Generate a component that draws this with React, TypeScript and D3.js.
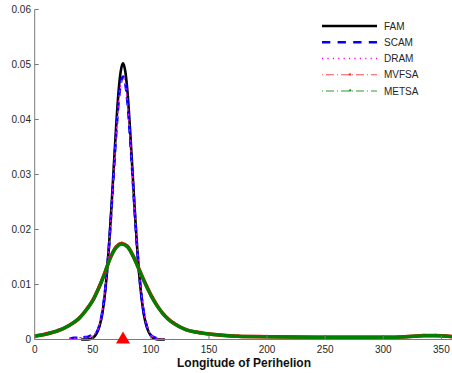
import React from "react";
import * as d3 from "d3";

// ---- data ----
const famX = [40,44,48,50,52,54,56,58,60,62,64,66,68,70,72,74,76,78,80,82,84,86,88,90,92,94,96,98,100,102,104,108,112];
const famY = [0,0,0.0001,0.0003,0.0007,0.0014,0.0026,0.0045,0.0075,0.0117,0.0172,0.0239,0.0312,0.0384,0.0446,0.0487,0.0502,0.0487,0.0446,0.0384,0.0312,0.0239,0.0172,0.0117,0.0075,0.0045,0.0026,0.0014,0.0007,0.0003,0.0001,0,0];

const scamX = [30,34,38,42,46,48,50,52,54,56,58,60,62,64,66,68,70,72,74,76,78,80,82,84,86,88,90,92,94,96,98,100,102,104,107,110];
const scamY = [0.0001,0.0003,0.0003,0.0004,0.0005,0.0007,0.0008,0.0010,0.0016,0.0028,0.0048,0.0078,0.0119,0.0172,0.0235,0.0304,0.0370,0.0427,0.0465,0.0478,0.0465,0.0427,0.0370,0.0304,0.0235,0.0172,0.0119,0.0078,0.0048,0.0028,0.0015,0.0008,0.0005,0.0003,0.0002,0.0001];

const dramX = [30,34,38,42,46,48,50,52,54,56,58,60,62,64,66,68,70,72,74,76,78,80,82,84,86,88,90,92,94,96,98,100,102,104,107,110];
const dramY = [0.0001,0.0002,0.0003,0.0004,0.0005,0.0006,0.0008,0.0011,0.0016,0.0029,0.0049,0.0079,0.0120,0.0173,0.0236,0.0304,0.0369,0.0425,0.0463,0.0476,0.0464,0.0426,0.0370,0.0305,0.0236,0.0173,0.0120,0.0079,0.0049,0.0029,0.0016,0.0009,0.0005,0.0003,0.0002,0.0001];

const metsaX = [0,10,20,30,38,45,50,55,60,65,70,75,80,85,90,95,100,105,110,115,120,130,140,150,160,175,200,250,300,320,335,345,360];
const metsaY = [0.0006,0.0010,0.0016,0.0026,0.0038,0.0055,0.0071,0.0093,0.0119,0.0148,0.0167,0.01736,0.0168,0.0150,0.0126,0.0102,0.0080,0.0062,0.0048,0.0037,0.0029,0.0018,0.0013,0.0010,0.0008,0.0006,0.0005,0.0004,0.0004,0.0005,0.0007,0.0007,0.0005];

const mvfsaX = [0,10,20,30,38,45,50,55,60,65,70,75,80,85,90,95,100,105,110,115,120,130,140,150,160,175,200,250,300,320,335,345,360];
const mvfsaY = [0.0006,0.0010,0.0016,0.0026,0.0038,0.0056,0.0071,0.0093,0.0119,0.0148,0.0168,0.01745,0.0169,0.0151,0.0127,0.0103,0.0081,0.0063,0.0048,0.0037,0.0029,0.0018,0.0013,0.0010,0.0008,0.0006,0.0005,0.0004,0.0004,0.0005,0.0007,0.0007,0.0005];

const trueValue = 76;

const xTicks = [0,50,100,150,200,250,300,350];
const yTicks = [0,0.01,0.02,0.03,0.04,0.05,0.06];
const seriesNames = ["FAM","SCAM","DRAM","MVFSA","METSA"];

const FONT = "'Liberation Sans', Arial, Helvetica, sans-serif";

export default function App() {
  const W = 452, H = 373;
  const x = d3.scaleLinear().domain([0, 360]).range([34.7, 453]);
  const y = d3.scaleLinear().domain([0, 0.06]).range([339.5, 9.5]);

  const mk = (xs: number[], ys: number[]) =>
    d3.line<number>().x((_, i) => x(xs[i])).y((d) => y(d)).curve(d3.curveMonotoneX)(ys) || "";

  const axisColor = "#7a7a7a";
  const textColor = "#262626";

  const styles: Record<string, any> = {
    FAM: { stroke: "#000", strokeWidth: 2.6 },
    SCAM: { stroke: "#0000ff", strokeWidth: 2.6, strokeDasharray: "8,6" },
    DRAM: { stroke: "#ff00ff", strokeWidth: 1.3, strokeDasharray: "1.2,4" },
    MVFSA: { stroke: "#ff0000", strokeWidth: 3.6 },
    METSA: { stroke: "#008000", strokeWidth: 3.4 },
  };
  const legendStyles: Record<string, any> = {
    FAM: { stroke: "#000", strokeWidth: 2.6 },
    SCAM: { stroke: "#0000ff", strokeWidth: 2.6, strokeDasharray: "8.3,7.3" },
    DRAM: { stroke: "#ff00ff", strokeWidth: 1.3, strokeDasharray: "1.2,4.2" },
    MVFSA: { stroke: "#ff5050", strokeWidth: 1, strokeDasharray: "1,3,8,3" },
    METSA: { stroke: "#2a9a2a", strokeWidth: 1, strokeDasharray: "1,3,8,3" },
  };

  const tx = x(trueValue), ty = y(0);

  return (
    <svg width={W} height={H} style={{ position: "absolute", left: 0, top: 0, background: "#fff" }}>
      <rect width={W} height={H} fill="#fff" />
      {/* curves */}
      <path d={mk(famX, famY)} fill="none" {...styles.FAM} strokeLinejoin="round" />
      <path d={mk(scamX, scamY)} fill="none" {...styles.SCAM} />
      <path d={mk(dramX, dramY)} fill="none" {...styles.DRAM} strokeLinecap="round" />
      <path d={mk(mvfsaX, mvfsaY)} fill="none" {...styles.MVFSA} />
      <path d={mk(metsaX, metsaY)} fill="none" {...styles.METSA} />
      {/* red specks from MVFSA markers */}
      {mvfsaX.map((v, i) => (
        <circle key={"mv" + i} cx={x(v)} cy={y(mvfsaY[i]) - 1.5} r={0.7} fill="#ff0000" opacity={0.8} />
      ))}

      {/* axes */}
      <line x1={x(0)} x2={W} y1={y(0)} y2={y(0)} stroke={axisColor} strokeWidth={1} />
      <line x1={x(0)} x2={x(0)} y1={y(0)} y2={y(0.06)} stroke={axisColor} strokeWidth={1} />
      {xTicks.map((t) => (
        <g key={"xt" + t}>
          <line x1={x(t)} x2={x(t)} y1={y(0)} y2={y(0) - 4} stroke={axisColor} />
          <text x={x(t)} y={352.5} textAnchor="middle" fontFamily={FONT} fontSize={10} fill={textColor}>{t}</text>
        </g>
      ))}
      {yTicks.map((t) => (
        <g key={"yt" + t}>
          <line x1={x(0)} x2={x(0) + 4} y1={y(t)} y2={y(t)} stroke={axisColor} />
          <text x={31} y={y(t)} dy="0.35em" textAnchor="end" fontFamily={FONT} fontSize={10} fill={textColor}>{t === 0 ? "0" : t.toFixed(2)}</text>
        </g>
      ))}
      <text x={244} y={366.5} textAnchor="middle" fontFamily={FONT} fontSize={12} fontWeight="bold" fill="#111">Longitude of Perihelion</text>

      {/* true value marker */}
      <path d={`M${tx},${ty - 8}L${tx + 7},${ty + 4}L${tx - 7},${ty + 4}Z`} fill="#ff0000" />

      {/* legend */}
      {seriesNames.map((n, i) => {
        const ly = 26 + i * 16.25;
        return (
          <g key={"lg" + n}>
            <line x1={322} x2={377} y1={ly} y2={ly} {...legendStyles[n]} />
            {(n === "MVFSA" || n === "METSA") && (
              <text x={350} y={ly} dy="0.35em" textAnchor="middle" fontFamily={FONT} fontSize={8} fontWeight="bold" fill={n === "MVFSA" ? "#ff0000" : "#008000"}>*</text>
            )}
            <text x={384} y={ly} dy="0.35em" fontFamily={FONT} fontSize={10} fill={textColor}>{n}</text>
          </g>
        );
      })}
    </svg>
  );
}
